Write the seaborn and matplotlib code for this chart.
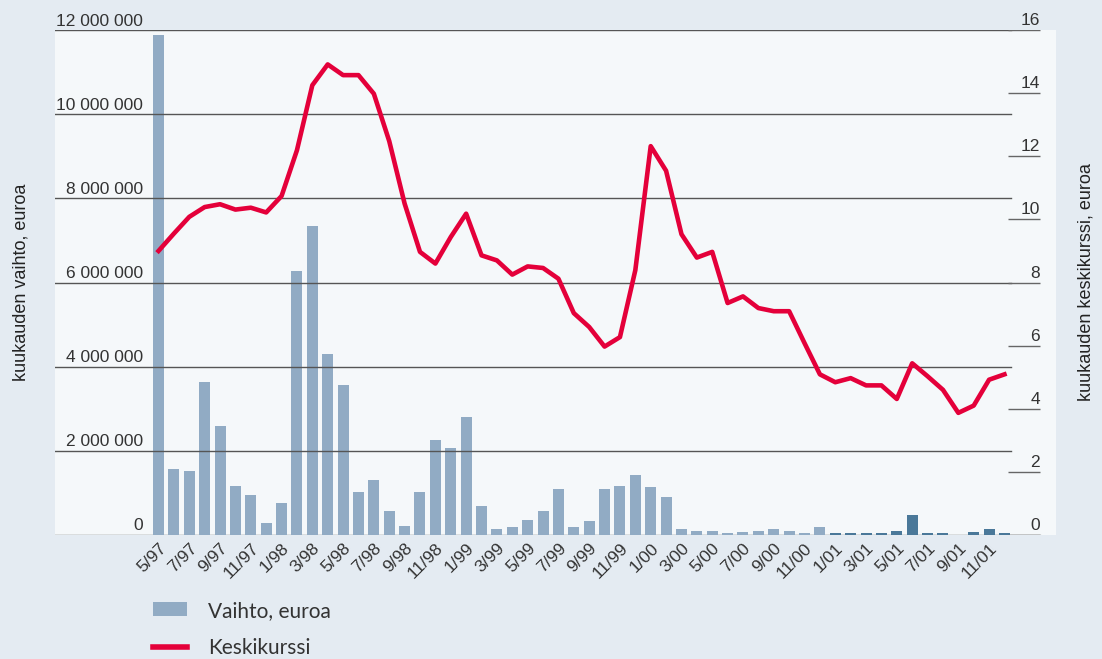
import numpy as np
import pandas as pd
import seaborn as sns
import matplotlib.pyplot as plt
from matplotlib.patches import Patch
from matplotlib.lines import Line2D
from matplotlib.transforms import offset_copy

# Data
kuukaudet = ["5/97", "6/97", "7/97", "8/97", "9/97", "10/97", "11/97", "12/97",
             "1/98", "2/98", "3/98", "4/98", "5/98", "6/98", "7/98", "8/98", "9/98", "10/98", "11/98", "12/98",
             "1/99", "2/99", "3/99", "4/99", "5/99", "6/99", "7/99", "8/99", "9/99", "10/99", "11/99", "12/99",
             "1/00", "2/00", "3/00", "4/00", "5/00", "6/00", "7/00", "8/00", "9/00", "10/00", "11/00", "12/00",
             "1/01", "2/01", "3/01", "4/01", "5/01", "6/01", "7/01", "8/01", "9/01", "10/01", "11/01", "12/01"]

vaihto = [11890000, 1580000, 1530000, 3630000, 2580000, 1175000, 960000, 294000,
          770000, 6270000, 7340000, 4290000, 3560000, 1030000, 1317000, 579000, 222000, 1030000, 2246000, 2056000,
          2794000, 698000, 151000, 198000, 365000, 579000, 1103000, 198000, 341000, 1103000, 1175000, 1437000,
          1151000, 913000, 151000, 103000, 103000, 45000, 79000, 103000, 151000, 103000, 45000, 198000,
          45000, 45000, 45000, 45000, 103000, 484000, 45000, 45000, 0, 79000, 151000, 45000]

keskikurssi = [9.0, 9.55, 10.08, 10.39, 10.48, 10.31, 10.37, 10.22,
               10.74, 12.19, 14.25, 14.91, 14.57, 14.57, 13.98, 12.48, 10.5, 8.97, 8.6, 9.44,
               10.18, 8.86, 8.70, 8.25, 8.51, 8.46, 8.12, 7.03, 6.59, 5.97, 6.27, 8.39,
               12.32, 11.54, 9.53, 8.79, 8.97, 7.35, 7.56, 7.19, 7.09, 7.09, 6.08, 5.09,
               4.84, 4.97, 4.74, 4.74, 4.31, 5.44, 5.03, 4.6, 3.87, 4.1, 4.92, 5.09]

# vuoden 2001 pylvaat tummemmalla
jakso = ["vanha"] * 44 + ["2001"] * 12

vasen_arvot = [0, 2000000, 4000000, 6000000, 8000000, 10000000, 12000000]
vasen_tekstit = ["0", "2 000 000", "4 000 000", "6 000 000", "8 000 000", "10 000 000", "12 000 000"]
oikea_arvot = [0, 2, 4, 6, 8, 10, 12, 14, 16]

df = pd.DataFrame({"kuukausi": kuukaudet, "vaihto": vaihto, "kurssi": keskikurssi, "jakso": jakso})
df["pos"] = np.arange(len(df))

taustavari = "#e4ebf2"
paneeli = "#f5f8fa"
vaalea = "#91abc4"
tumma = "#4a7899"
punainen = "#e4003a"
teksti = "#333333"

plt.rcParams['font.family'] = ['Liberation Sans', 'DejaVu Sans']

fig = plt.figure(figsize=(11.02, 6.59), dpi=100, facecolor=taustavari)
x0, x1 = 55 / 1102, 1056 / 1102
y0, y1 = 1 - 535 / 659, 1 - 30 / 659
ax = fig.add_axes([x0, y0, x1 - x0, y1 - y0])
ax.set_facecolor(paneeli)

sns.barplot(data=df, x="kuukausi", y="vaihto", hue="jakso", palette={"vanha": vaalea, "2001": tumma},
            dodge=False, width=0.715, legend=False, saturation=1, ax=ax, zorder=2)

ax.set_xlim(-6.73, 58.35)
ax.set_ylim(0, 12000000)

# vaakaviivat
gl_end = (1011 - 55) / 1001
for v in vasen_arvot[1:]:
    ax.axhline(v, xmin=0, xmax=gl_end, color="#555555", lw=1.0, zorder=3)
ax.axhline(0, xmin=0, xmax=(1040 - 55) / 1001, color="#222222", lw=0.9, zorder=1)

trans_l = offset_copy(ax.get_yaxis_transform(), fig=fig, y=4.5, units='dots')
for v, t in zip(vasen_arvot, vasen_tekstit):
    ax.text((143 - 55) / 1001, v, t, transform=trans_l, ha="right", va="baseline",
            fontsize=12.5, color=teksti, zorder=4)

for s in ax.spines.values():
    s.set_visible(False)
ax.set_yticks([])
ax.set_xlabel("")
ax.set_ylabel("")
ax.set_xticks(df["pos"][::2])
ax.set_xticklabels(df["kuukausi"][::2])
ax.tick_params(axis="x", length=0, pad=4, labelsize=12.5, labelcolor=teksti)
plt.setp(ax.get_xticklabels(), rotation=45, ha="right", va="top", rotation_mode="anchor")

# oikea akseli
ax2 = ax.twinx()
ax2.set_ylim(0, 16)
sns.lineplot(x=df["pos"], y=df["kurssi"], color=punainen, lw=3.3, ax=ax2, zorder=5)
ax2.set_xlim(-6.73, 58.35)
ax2.set_ylabel("")
ax2.set_yticks([])
for s in ax2.spines.values():
    s.set_visible(False)
ax2.hlines(oikea_arvot, (1008 - 55) / 1001, (1040 - 55) / 1001, transform=ax2.get_yaxis_transform(),
           color="#666666", lw=1.0)
trans_r = offset_copy(ax2.get_yaxis_transform(), fig=fig, y=5, units='dots')
for v in oikea_arvot:
    ax2.text((1040 - 55) / 1001, v, str(v), transform=trans_r, ha="right", va="baseline",
             fontsize=12.5, color=teksti)

fig.text(21 / 1102, 1 - 282 / 659, "kuukauden vaihto, euroa", rotation=90, ha="center", va="center",
         fontsize=13, color="#222222")
fig.text(1086 / 1102, 1 - 282 / 659, "kuukauden keskikurssi, euroa", rotation=90, ha="center", va="center",
         fontsize=13, color="#222222")

kahvat = [Patch(facecolor=vaalea, edgecolor="none"), Line2D([0], [0], color=punainen, lw=4)]
fig.legend(kahvat, ["Vaihto, euroa", "Keskikurssi"], loc="upper left", bbox_to_anchor=(134 / 1102, 1 - 582 / 659),
           frameon=False, prop={"family": "Lato", "size": 15}, labelcolor=teksti,
           handlelength=1.65, handleheight=0.65, handletextpad=1.0, labelspacing=0.85)

fig.savefig("out.png", dpi=100, facecolor=taustavari)
